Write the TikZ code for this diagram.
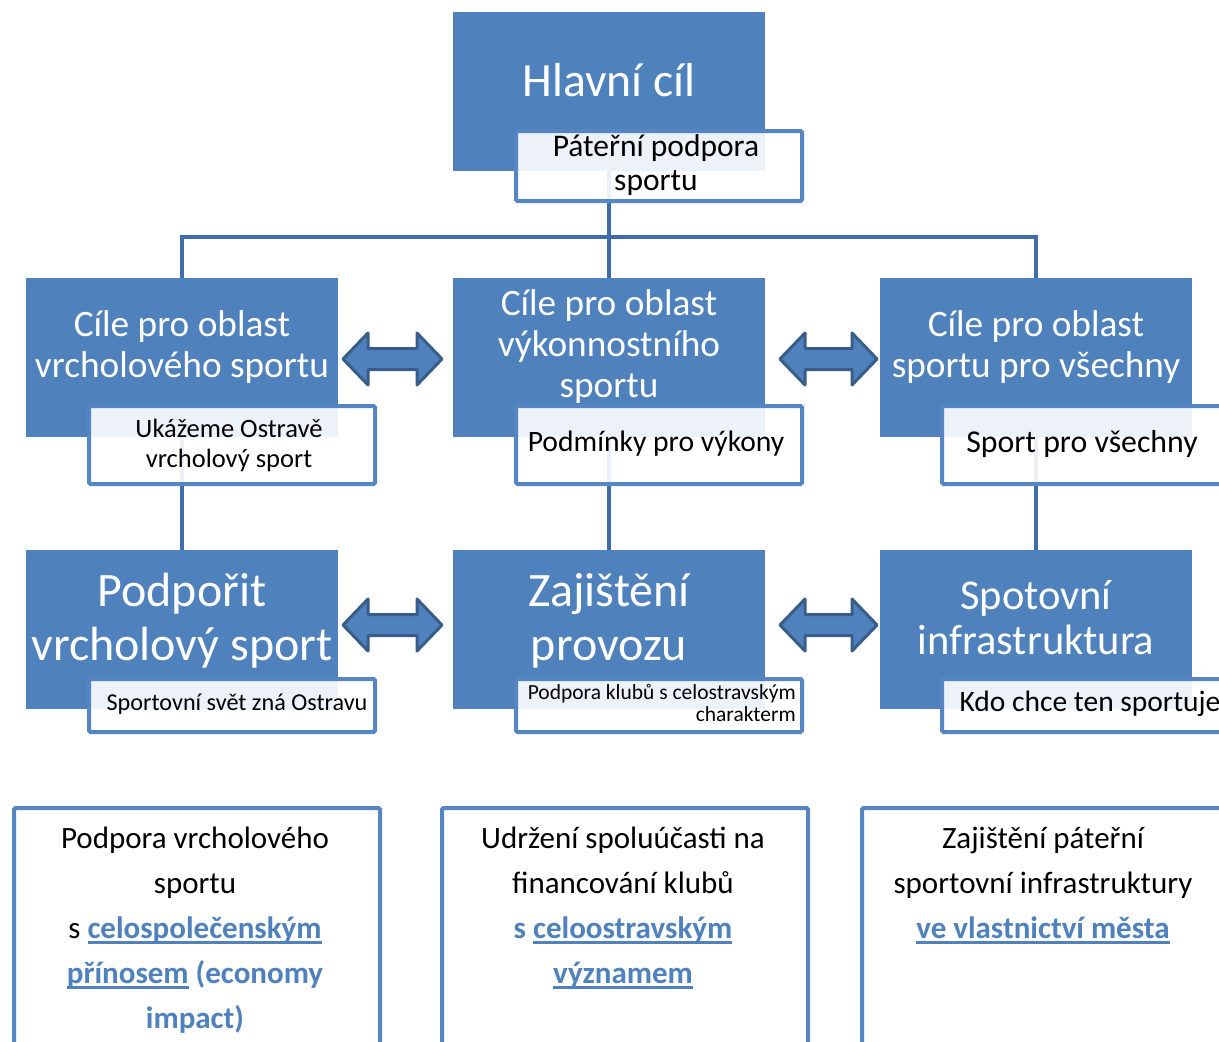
\documentclass[tikz,border=0pt]{standalone}
\usepackage{fontspec}
\setmainfont{Carlito}
\definecolor{bluefill}{HTML}{4F81BD}
\definecolor{linec}{HTML}{3E6DA9}
\definecolor{arrowb}{HTML}{385D8A}
\definecolor{wbord}{HTML}{5585C3}
\newcommand\hlu[1]{\leavevmode{\color{bluefill}\bfseries\setbox0\hbox{#1}\rlap{\rule[-5pt]{\wd0}{2.6pt}}\box0}}
\newcommand\blb[1]{\leavevmode{\color{bluefill}\bfseries #1}}
\newcommand\dblarr[3]{\draw[dblarrow] (#1,#3) -- (#1+25,#3-26) -- (#1+25,#3-10.5) -- (#2-25,#3-10.5) -- (#2-25,#3-26) -- (#2,#3) -- (#2-25,#3+26) -- (#2-25,#3+10.5) -- (#1+25,#3+10.5) -- (#1+25,#3+26) -- cycle;}
\begin{document}
\begin{tikzpicture}[x=1pt,y=-1pt,
  bluebox/.style={fill=bluefill, draw=none, minimum width=312, minimum height=159, inner sep=0, anchor=north west},
  wbox/.style={fill=white, fill opacity=0.9, draw=wbord, line width=4, rounded corners=1.5, minimum width=286, inner sep=0, anchor=north west},
  bbox/.style={fill=white, draw=wbord, line width=4, rounded corners=1.5, minimum width=366, minimum height=280, inner sep=0, anchor=north west},
  conn/.style={draw=linec, line width=4.5},
  wtxt/.style={text=white, align=center, inner sep=0},
  ktxt/.style={text=black, align=center, inner sep=0},
  dblarrow/.style={fill=bluefill, draw=arrowb, line width=3, line join=round}
]
\path[use as bounding box] (0,0) rectangle (1219,1042);
\clip (0,0) rectangle (1219,1042);
\fill[white] (0,0) rectangle (1219,1042);

% blue boxes
\node[bluebox] (hl) at (453,12) {};
\node[bluebox] (c1) at (26,278) {};
\node[bluebox] (c2) at (453,278) {};
\node[bluebox] (c3) at (880,278) {};
\node[bluebox] (d1) at (26,550) {};
\node[bluebox] (d2) at (453,550) {};
\node[bluebox] (d3) at (880,550) {};
\coordinate (bus) at (609,237);

% texts on blue
\node[wtxt, font=\fontsize{47.7}{54}\selectfont] (hlt) at (609,80) {Hlavní cíl};
\node[wtxt, font=\fontsize{37.3}{41}\selectfont] (c1t) at (182,347) {Cíle pro oblast\\vrcholového sportu};
\node[wtxt, font=\fontsize{37.3}{41}\selectfont] (c2t) at (609,347) {Cíle pro oblast\\výkonnostního\\sportu};
\node[wtxt, font=\fontsize{37.3}{41}\selectfont] (c3t) at (1036,347) {Cíle pro oblast\\sportu pro všechny};
\node[wtxt, font=\fontsize{48}{54}\selectfont] (d1t) at (182,621) {Podpořit\\vrcholový sport};
\node[wtxt, font=\fontsize{48}{54}\selectfont] (d2t) at (609,621) {Zajištění\\provozu};
\node[wtxt, font=\fontsize{42.5}{45}\selectfont] (d3t) at (1036,618) {Spotovní\\infrastruktura};

% connectors
\draw[conn] (hl.south) -- (c2.north);
\draw[conn] (c1.north) |- (bus) -| (c3.north);
\draw[conn] (c1.south) -- (d1.north);
\draw[conn] (c2.south) -- (d2.north);
\draw[conn] (c3.south) -- (d3.north);

% white sub boxes
\node[wbox, minimum height=70] (hls) at (514,129) {};
\node[wbox, minimum height=78] (c1s) at (87,404) {};
\node[wbox, minimum height=78] (c2s) at (514,404) {};
\node[wbox, minimum height=78] (c3s) at (940,404) {};
\node[wbox, minimum height=53] (d1s) at (87,677) {};
\node[wbox, minimum height=53] (d2s) at (514,677) {};
\node[wbox, minimum height=53] (d3s) at (940,677) {};

\node[ktxt, font=\fontsize{31.5}{34}\selectfont] (hlst) at (656,165) {Páteřní podpora\\sportu};
\node[ktxt, font=\fontsize{26.5}{30}\selectfont] (c1st) at (229,445) {Ukážeme Ostravě\\vrcholový sport};
\node[ktxt, font=\fontsize{29.6}{34}\selectfont] (c2st) at (656,444) {Podmínky pro výkony};
\node[ktxt, font=\fontsize{31.8}{34}\selectfont] (c3st) at (1082,444) {Sport pro všechny};
\node[ktxt, font=\fontsize{24.2}{28}\selectfont] (d1st) at (237,704) {Sportovní svět zná Ostravu};
\node[ktxt, align=right, anchor=east, font=\fontsize{21.5}{22}\selectfont] (d2st) at (796,703) {Podpora klubů s celostravským\\charakterm};
\node[ktxt, font=\fontsize{29.5}{34}\selectfont] (d3st) at (1090,704) {Kdo chce ten sportuje};

% double arrows
\dblarr{343}{442}{359}
\dblarr{780}{877}{359}
\dblarr{343}{442}{625}
\dblarr{780}{877}{625}

% bottom boxes
\node[bbox] (b1) at (12,806) {};
\node[bbox] (b2) at (440,806) {};
\node[bbox] (b3) at (860,806) {};
\node[ktxt, anchor=north, font=\fontsize{31}{45}\selectfont] (b1t) at (195,827)
  {Podpora vrcholového\\sportu\\s \hlu{celospolečenským}\\\hlu{přínosem} \blb{(economy}\\\blb{impact)}};
\node[ktxt, anchor=north, font=\fontsize{31}{45}\selectfont] (b2t) at (623,827)
  {Udržení spoluúčasti na\\financování klubů\\\blb{s} \hlu{celoostravským}\\\hlu{významem}};
\node[ktxt, anchor=north, font=\fontsize{31}{45}\selectfont] (b3t) at (1043,827)
  {Zajištění páteřní\\sportovní infrastruktury\\\hlu{ve vlastnictví města}};
\end{tikzpicture}
\end{document}
